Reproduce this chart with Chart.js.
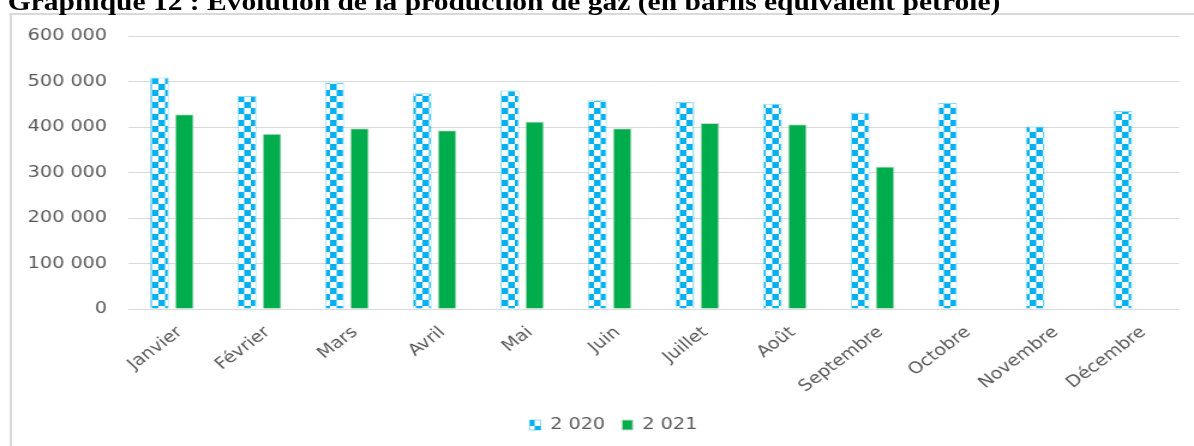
<!DOCTYPE html>
<html>
<head>
<meta charset="utf-8">
<script src="https://cdn.jsdelivr.net/npm/chart.js@4/dist/chart.umd.min.js"></script>
<style>
  html, body { margin: 0; padding: 0; background: #fff; overflow: hidden; width: 1194px; height: 446px; }
  /* the source picture is stretched sideways, so the whole thing is drawn narrow and widened */
  #wrap { position: absolute; left: 0; top: 0; width: 995px; height: 446px; transform: scaleX(1.2); transform-origin: 0 0; }
  #titre { position: absolute; left: 6.5px; top: -10px; font: bold 24.6px/24px "Liberation Serif", serif; color: #000; white-space: nowrap; z-index: 2; }
  #cadre { position: absolute; left: 7.5px; top: 13px; width: 2000px; height: 1000px; border-left: 2px solid #d9d9d9; border-top: 2px solid #d9d9d9; }
  #graphique { position: absolute; left: 0; top: 0; }
</style>
</head>
<body>
<div id="wrap">
  <div id="cadre"></div>
  <div id="titre">Graphique 12 : Evolution de la production de gaz (en barils équivalent pétrole)</div>
  <canvas id="graphique" width="995" height="446"></canvas>
</div>
<script>
const mois = ['Janvier', 'Février', 'Mars', 'Avril', 'Mai', 'Juin', 'Juillet', 'Août', 'Septembre', 'Octobre', 'Novembre', 'Décembre'];
const prod2020 = [509000, 468000, 498000, 474000, 480000, 459000, 455000, 451000, 431000, 453000, 401000, 435000];
const prod2021 = [428000, 385000, 397000, 393000, 412000, 397000, 409000, 406000, 313000, null, null, null];
const graduations = [0, 100000, 200000, 300000, 400000, 500000, 600000];

// motif damier bleu / blanc pour 2020
function damier() {
  const c = document.createElement('canvas');
  c.width = 11;
  c.height = 12;
  const g = c.getContext('2d');
  g.fillStyle = '#fff';
  g.fillRect(0, 0, 11, 12);
  g.fillStyle = '#00b0f0';
  g.fillRect(0, 0, 5.5, 6);
  g.fillRect(5.5, 6, 5.5, 6);
  return g.createPattern(c, 'repeat');
}

function espaces(v) {
  return String(v).replace(/\B(?=(\d{3})+(?!\d))/g, ' ');
}

// la légende d'Excel est centrée sur tout le cadre, un peu plus à droite
const decaleLegende = {
  id: 'decaleLegende',
  beforeDraw(chart) {
    chart.legend.left = 40;
  }
};

Chart.defaults.font.family = '"DejaVu Sans", sans-serif';
Chart.defaults.color = '#595959';

const ctx = document.getElementById('graphique').getContext('2d');

new Chart(ctx, {
  type: 'bar',
  data: {
    labels: mois,
    datasets: [
      {
        label: '2 020',
        data: prod2020,
        backgroundColor: damier(),
        borderColor: 'rgba(0, 176, 240, 0.45)',
        borderWidth: 1,
        categoryPercentage: 0.571,
        barPercentage: 0.76
      },
      {
        label: '2 021',
        data: prod2021,
        backgroundColor: '#00ad4c',
        borderColor: '#cfd8d2',
        borderWidth: 1,
        categoryPercentage: 0.571,
        barPercentage: 0.76
      }
    ]
  },
  options: {
    responsive: false,
    animation: false,
    devicePixelRatio: 1,
    layout: { padding: { left: 0, right: 12.5, top: 36, bottom: 3 } },
    plugins: {
      tooltip: { enabled: false },
      legend: {
        position: 'bottom',
        labels: { boxWidth: 9, boxHeight: 10, padding: 14, font: { size: 16 }, color: '#595959' }
      }
    },
    scales: {
      x: {
        grid: { display: false, drawTicks: false },
        border: { display: false },
        ticks: { autoSkip: false, minRotation: 42, maxRotation: 42, padding: 14, labelOffset: 6.7, font: { size: 16 }, color: '#595959' },
        afterFit: (s) => { s.height = 94; }
      },
      y: {
        min: 0,
        max: 600000,
        grid: { color: '#d9d9d9', lineWidth: 1, drawTicks: false },
        border: { display: false },
        afterBuildTicks: (s) => { s.ticks = graduations.map(v => ({ value: v })); },
        ticks: { padding: 17.5, font: { size: 16 }, color: '#595959', callback: (v) => espaces(v) },
        afterFit: (s) => { s.width = 106.7; }
      }
    }
  },
  plugins: [decaleLegende]
});
</script>
</body>
</html>
